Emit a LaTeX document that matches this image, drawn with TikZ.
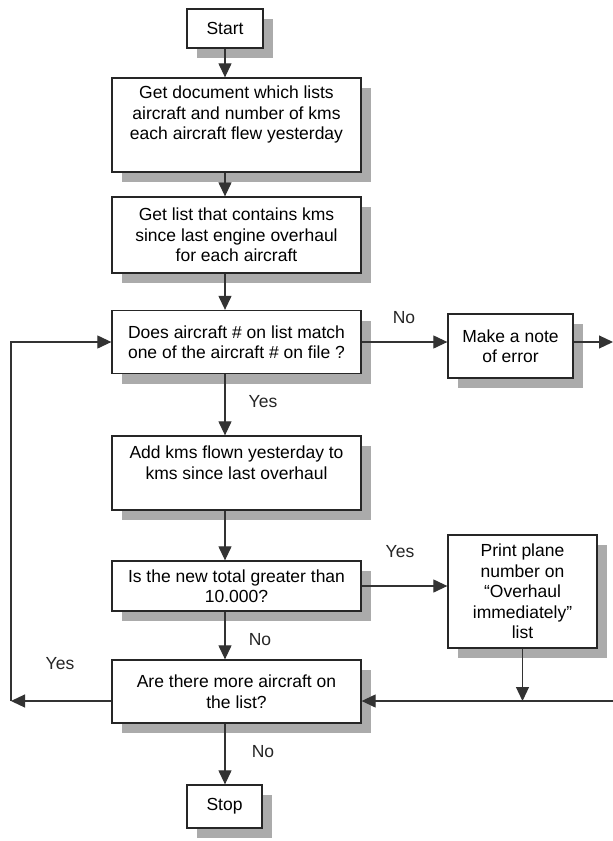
\documentclass[tikz,border=0pt]{standalone}
\usepackage{fontspec}
\setmainfont{Liberation Sans}
\usetikzlibrary{arrows.meta,shadows}
\begin{document}
\begin{tikzpicture}[x=1pt,y=-1pt,
  box/.style={draw=black!85, line width=1.3pt, fill=white, inner sep=0pt, align=center,
    font=\fontsize{17.5}{20.5}\selectfont,
    drop shadow={shadow xshift=10pt, shadow yshift=-10pt, fill=black!33, opacity=1}},
  arr/.style={draw=black!80, line width=1.2pt, -{Triangle[length=14pt,width=13pt]}},
  lbl/.style={font=\fontsize{17.5}{20}\selectfont, text=black!85, inner sep=0pt}]
\useasboundingbox (0,0) rectangle (613,841);
\fill[white] (0,0) rectangle (613,841);

\node[box, minimum width=76pt, minimum height=39pt] (start) at (225,28.5) {Start};
\node[box, minimum width=249pt, minimum height=94pt] (b1) at (236.5,125)
  {Get document which lists\\aircraft and number of kms\\each aircraft flew yesterday\\[4pt]\mbox{}};
\node[box, minimum width=249pt, minimum height=76pt] (b2) at (236.5,235)
  {Get list that contains kms\\since last engine overhaul\\for each aircraft};
\node[box, minimum width=249pt, minimum height=63pt] (b3) at (236.5,342)
  {Does aircraft \# on list match\\one of the aircraft \# on file ?};
\node[box, minimum width=125pt, minimum height=64pt] (note) at (510.5,346)
  {Make a note\\of error};
\node[box, minimum width=249pt, minimum height=74pt] (b4) at (236.5,473)
  {Add kms flown yesterday to\\kms since last overhaul\\\mbox{}};
\node[box, minimum width=249pt, minimum height=50pt] (b5) at (236.5,586)
  {Is the new total greater than\\10.000?};
\node[box, minimum width=149pt, minimum height=113pt] (print) at (522.5,591.5)
  {Print plane\\number on\\“Overhaul\\immediately”\\list};
\node[box, minimum width=249pt, minimum height=63pt] (b6) at (236.5,691.5)
  {Are there more aircraft on\\the list?};
\node[box, minimum width=75pt, minimum height=43pt] (stop) at (224.5,806.5) {Stop};

\draw[arr] (start.south) -- (start.south |- b1.north);
\draw[arr] (b1.south -| start) -- (b2.north -| start);
\draw[arr] (b2.south -| start) -- (b3.north -| start);
\draw[arr] (b3.south -| start) -- (b4.north -| start);
\draw[arr] (b4.south -| start) -- (b5.north -| start);
\draw[arr] (b5.south -| start) -- (b6.north -| start);
\draw[arr] (b6.south -| start) -- (stop.north -| start);

\draw[arr] (b3.east) -- (b3.east -| note.west);
\coordinate (r1) at (613,342);
\draw[arr] (note.east |- r1) -- (r1);

\draw[arr] (b5.east) -- (b5.east -| print.west);
\coordinate (r2) at (613,701);
\draw[arr] (r2) -- (r2 -| b6.east);
\draw[arr] (print.south) -- (print.south |- r2);

\coordinate (l1) at (11,701);
\draw[arr] (b6.west |- l1) -- (l1);
\draw[arr] (l1) -- (l1 |- b3.west) -- (b3.west);

\node[lbl] (yes1) at (263,402) {Yes};
\node[lbl] (no1) at (404,318) {No};
\node[lbl] (yes2) at (400,552) {Yes};
\node[lbl] (no2) at (260,640) {No};
\node[lbl] (yes3) at (60,664) {Yes};
\node[lbl] (no3) at (263,752) {No};
\end{tikzpicture}
\end{document}
